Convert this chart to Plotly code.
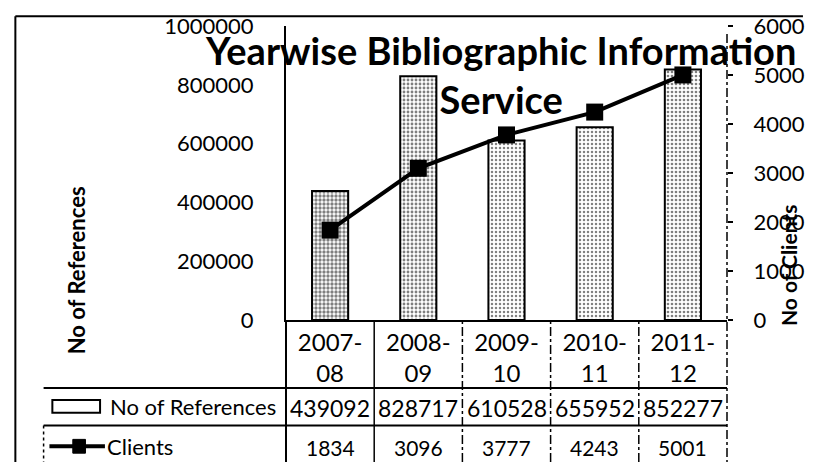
import plotly.graph_objects as go

categories = ["2007-<br>08", "2008-<br>09", "2009-<br>10", "2010-<br>11", "2011-<br>12"]
references = [439092, 828717, 610528, 655952, 852277]
clients = [1834, 3096, 3777, 4243, 5001]
ref_ticks = [0, 200000, 400000, 600000, 800000, 1000000]
client_ticks = [0, 1000, 2000, 3000, 4000, 5000, 6000]

W, H = 817, 464
L, R, T, B = 286, 739, 22, 320
FONT = "Lato, 'Open Sans', 'DejaVu Sans', sans-serif"

def px(p):
    return (p - L) / (R - L)

def py(q):
    return (B - q) / (B - T)

idx = list(range(len(categories)))

fig = go.Figure()
fig.add_trace(go.Bar(
    x=idx, y=references, name="No of References", width=0.41,
    marker=dict(color="white", line=dict(color="black", width=2),
                pattern=dict(shape=".", fgcolor="black", bgcolor="white", size=4,
                             solidity=[0.55, 0.4, 0.3, 0.3, 0.35])),
    yaxis="y", showlegend=False,
))
fig.add_trace(go.Scatter(
    x=idx, y=clients, name="Clients", mode="lines+markers",
    line=dict(color="black", width=4),
    marker=dict(symbol="square", size=17, color="black"),
    yaxis="y2", showlegend=False,
))

def hline(y, x0, x1, width=2, dash="solid"):
    return dict(type="line", xref="paper", yref="paper", x0=px(x0), x1=px(x1), y0=py(y), y1=py(y),
                line=dict(color="black", width=width, dash=dash))

def vline(x, y0, y1, width=2, dash="solid"):
    return dict(type="line", xref="paper", yref="paper", x0=px(x), x1=px(x), y0=py(y0), y1=py(y1),
                line=dict(color="black", width=width, dash=dash))

shapes = []
# outer frame
shapes.append(hline(12, 8, 817, 2))
shapes.append(vline(8, 12, 464, 2))
# table grid
shapes.append(hline(389, 37, R, 2))
shapes.append(hline(427, 37, R, 2))
shapes.append(vline(37, 427, 464, 1.5, "dot"))
shapes.append(vline(L, B, 464, 2))
shapes.append(vline(R, T + 8, 464, 1.5, "dashdot"))
for k in range(len(categories) - 1):
    shapes.append(dict(type="line", xref="x", yref="paper", x0=k + 0.5, x1=k + 0.5, y0=py(464), y1=0,
                       line=dict(color="black", width=1.5, dash="solid" if k == 0 else "dashdot")))
# legend keys in table
shapes.append(dict(type="rect", xref="paper", yref="paper", x0=px(46), x1=px(95), y0=py(401), y1=py(414),
                   line=dict(color="black", width=2), fillcolor="white"))
shapes.append(hline(448, 43, 100, 4))
shapes.append(dict(type="rect", xref="paper", yref="paper", x0=px(67), x1=px(80), y0=py(441), y1=py(455),
                   line=dict(color="black", width=1), fillcolor="black"))

annotations = []
for k in idx:
    annotations.append(dict(x=k, y=py(409), xref="x", yref="paper", text=str(references[k]), showarrow=False,
                            xanchor="center", yanchor="middle",
                            font=dict(family=FONT, size=23, color="black")))
    annotations.append(dict(x=k, y=py(449), xref="x", yref="paper", text=str(clients[k]), showarrow=False,
                            xanchor="center", yanchor="middle",
                            font=dict(family=FONT, size=21, color="black")))
annotations.append(dict(x=px(103), y=py(408), xref="paper", yref="paper", text="No of References", showarrow=False,
                        xanchor="left", yanchor="middle", font=dict(family=FONT, size=22, color="black")))
annotations.append(dict(x=px(100), y=py(448), xref="paper", yref="paper", text="Clients", showarrow=False,
                        xanchor="left", yanchor="middle", font=dict(family=FONT, size=22, color="black")))
annotations.append(dict(x=px(71), y=py(270), xref="paper", yref="paper", text="<b>No of References</b>",
                        showarrow=False, textangle=-90, xanchor="center", yanchor="middle",
                        font=dict(family=FONT, size=22, color="black")))
annotations.append(dict(x=px(802), y=py(265), xref="paper", yref="paper", text="<b>No of Clients</b>",
                        showarrow=False, textangle=-90, xanchor="center", yanchor="middle",
                        font=dict(family=FONT, size=21, color="black")))
annotations.append(dict(x=px(506), y=py(71), xref="paper", yref="paper",
                        text="<b>Yearwise Bibliographic Information<br>Service</b>",
                        showarrow=False, xanchor="center", yanchor="middle",
                        font=dict(family=FONT, size=38, color="black"), align="center"))

fig.update_layout(
    width=W, height=H,
    margin=dict(l=L, r=W - R, t=T, b=H - B, pad=0),
    paper_bgcolor="white", plot_bgcolor="white",
    xaxis=dict(tickmode="array", tickvals=idx, ticktext=categories, range=[-0.5, 4.5],
               showline=True, linecolor="black", linewidth=2, showgrid=False, ticks="",
               tickfont=dict(family=FONT, size=24, color="black"), zeroline=False),
    yaxis=dict(range=[0, 1000000], tickmode="array", tickvals=ref_ticks, ticktext=[str(v) for v in ref_ticks],
               showgrid=False, showline=True, linecolor="black", linewidth=2, zeroline=False, ticks="",
               ticklabelstandoff=26, tickfont=dict(family=FONT, size=22, color="black")),
    yaxis2=dict(range=[0, 6000], overlaying="y", side="right", tickmode="array", tickvals=client_ticks,
                ticktext=[str(v) for v in client_ticks], showgrid=False, showline=False, zeroline=False,
                ticks="outside", ticklen=5, tickwidth=2, tickcolor="black", ticklabelstandoff=16,
                tickfont=dict(family=FONT, size=22, color="black")),
    shapes=shapes, annotations=annotations,
)

fig.write_html("out.html", config={"displayModeBar": False},
               post_script="document.body.style.margin='0';")
